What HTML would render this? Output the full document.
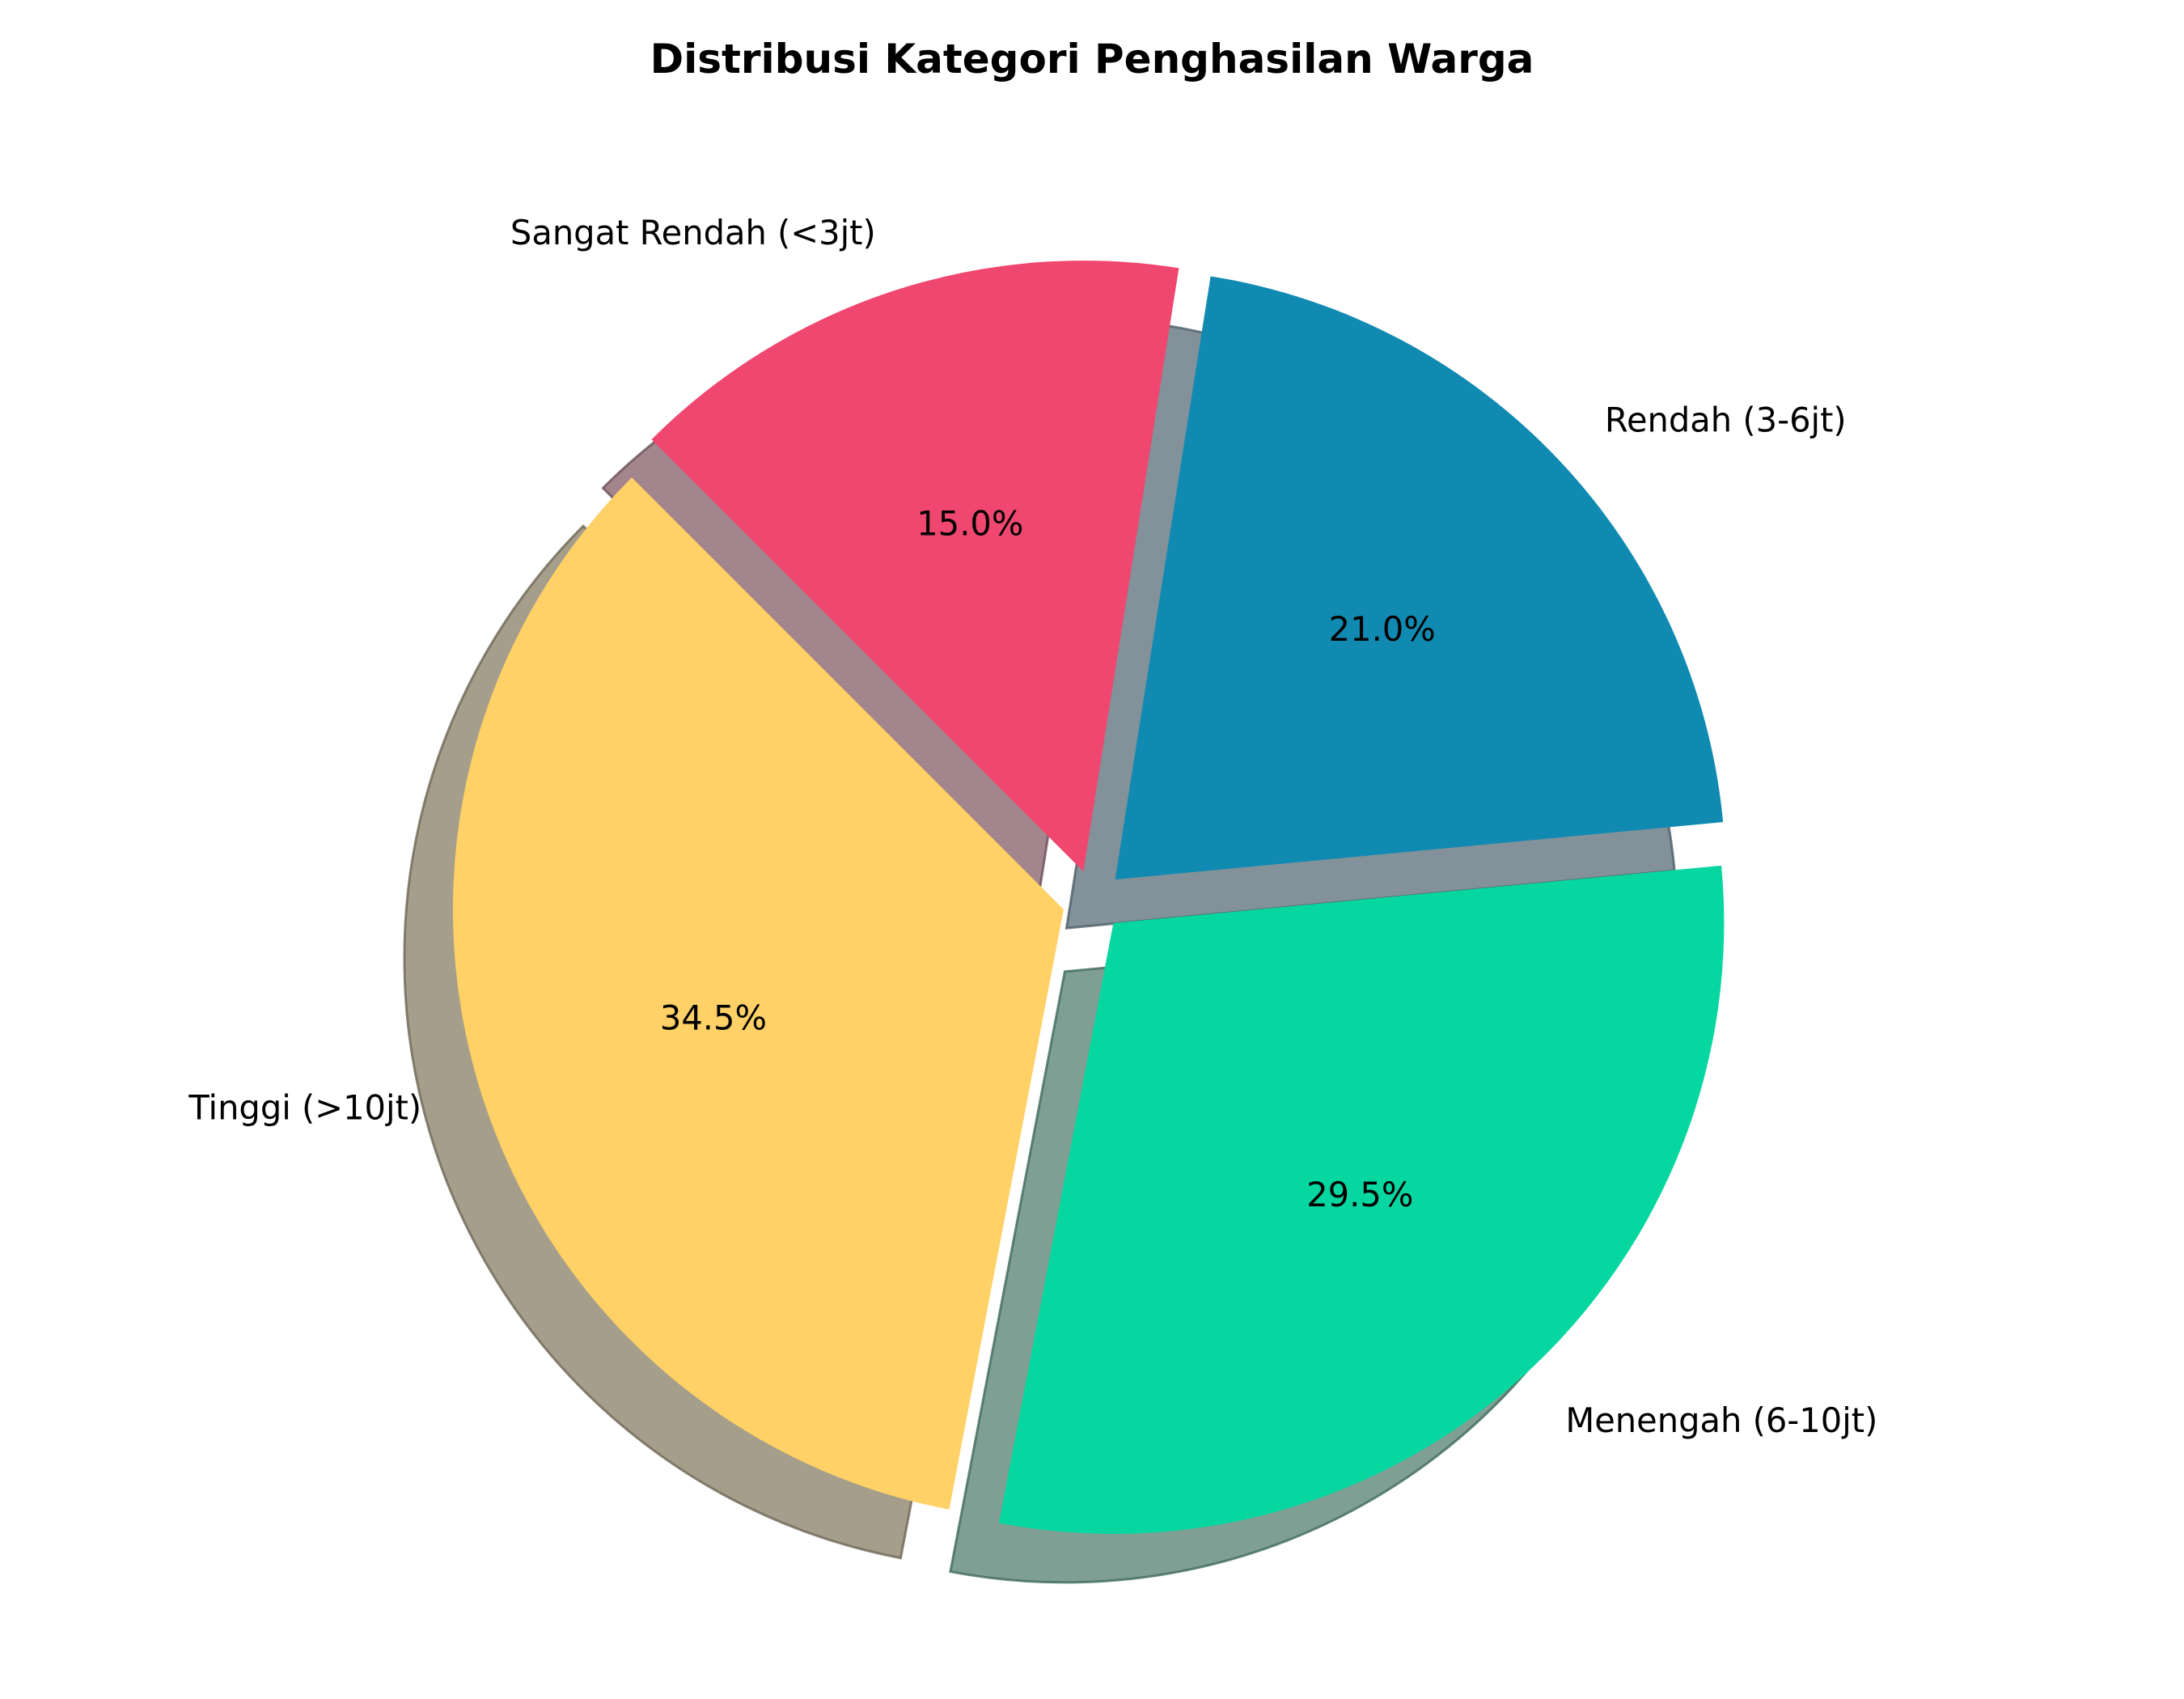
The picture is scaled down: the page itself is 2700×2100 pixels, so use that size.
<!DOCTYPE html>
<html><head><meta charset="utf-8"><style>
html,body{margin:0;padding:0;background:#fff;}
svg{display:block;font-family:"DejaVu Sans","Liberation Sans",sans-serif;}
</style></head><body>
<svg id="chart" width="2700" height="2100" viewBox="0 0 2700 2100">
<text x="1350" y="90" text-anchor="middle" font-size="50" font-weight="bold" fill="#000">Distribusi Kategori Penghasilan Warga</text>
<g id="shadows"></g>
<g id="wedges"></g>
<g id="labels"></g>
</svg>
<script>
const categories = ["Sangat Rendah (<3jt)", "Rendah (3-6jt)", "Menengah (6-10jt)", "Tinggi (>10jt)"];
const values = [15.0, 21.0, 29.5, 34.5];
const colors = ["#EF476F", "#118AB2", "#06D6A0", "#FFD166"];
const shadowColors = ["#a3868d", "#83929a", "#809f94", "#a59e8b"];
const shadowEdges = ["#6d4f58", "#4e5e66", "#3f6a5c", "#6e6756"];
const explode = [0.05, 0.05, 0.05, 0.05];

const NS = "http://www.w3.org/2000/svg";
const cx = 1351, cy = 1113, R = 755, startAngle = 135;
const shOff = [-60, 60];
const total = values.reduce((a, b) => a + b, 0);
const gS = document.getElementById("shadows");
const gW = document.getElementById("wedges");
const gL = document.getElementById("labels");
function pt(x, y, ang, r) { const t = ang * Math.PI / 180; return [x + r * Math.cos(t), y - r * Math.sin(t)]; }
function wedgePath(x, y, a1, a2) {
  const p1 = pt(x, y, a1, R), p2 = pt(x, y, a2, R);
  const large = Math.abs(a1 - a2) > 180 ? 1 : 0;
  return `M${x},${y} L${p1[0]},${p1[1]} A${R},${R} 0 ${large} 1 ${p2[0]},${p2[1]} Z`;
}
let a = startAngle;
values.forEach((v, i) => {
  const sweep = v / total * 360;
  const a1 = a, a2 = a - sweep, mid = (a1 + a2) / 2;
  const [ex, ey] = pt(cx, cy, mid, explode[i] * R);
  const sh = document.createElementNS(NS, "path");
  sh.setAttribute("d", wedgePath(ex + shOff[0], ey + shOff[1], a1, a2));
  sh.setAttribute("fill", shadowColors[i]);
  sh.setAttribute("stroke", shadowEdges[i]);
  sh.setAttribute("stroke-opacity", "0.8");
  sh.setAttribute("stroke-width", "3");
  
  
  gS.appendChild(sh);
  const w = document.createElementNS(NS, "path");
  w.setAttribute("d", wedgePath(ex, ey, a1, a2));
  w.setAttribute("fill", colors[i]);
  
  
  gW.appendChild(w);
  const lp = pt(ex, ey, mid, 1.1 * R);
  const lt = document.createElementNS(NS, "text");
  lt.setAttribute("x", lp[0]); lt.setAttribute("y", lp[1] + 15);
  lt.setAttribute("font-size", "41.6");
  lt.setAttribute("text-anchor", lp[0] < cx ? "end" : "start");
  lt.textContent = categories[i];
  
  
  gL.appendChild(lt);
  const pp = pt(ex, ey, mid, 0.6 * R);
  const pc = document.createElementNS(NS, "text");
  pc.setAttribute("x", pp[0]); pc.setAttribute("y", pp[1] + 15);
  pc.setAttribute("font-size", "41.6");
  pc.setAttribute("text-anchor", "middle");
  pc.textContent = v.toFixed(1) + "%";
  
  
  gL.appendChild(pc);
  a = a2;
});
</script>
</body></html>
